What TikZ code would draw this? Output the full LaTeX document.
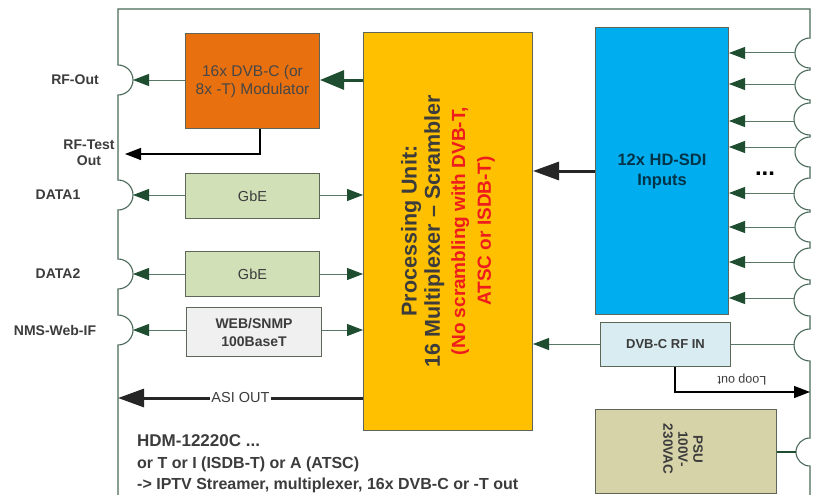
\documentclass[tikz,border=0pt]{standalone}
\usepackage{fontspec}
\setmainfont{Liberation Sans}
\usetikzlibrary{arrows.meta}
\definecolor{frameC}{HTML}{4A6A5A}
\definecolor{grn}{HTML}{1E4D30}
\definecolor{grnline}{HTML}{5A7868}
\definecolor{txt}{HTML}{3C3C3C}
\definecolor{modC}{HTML}{E8700E}
\definecolor{gbeC}{HTML}{D2E0B8}
\definecolor{webC}{HTML}{F0F0F0}
\definecolor{procC}{HTML}{FFC000}
\definecolor{sdiC}{HTML}{00AEEF}
\definecolor{rfinC}{HTML}{D8ECF2}
\definecolor{psuC}{HTML}{D6D3A9}
\definecolor{redT}{HTML}{EE1C1C}
\definecolor{bordC}{HTML}{5E6658}
\tikzset{
  frame/.style={draw=frameC, line width=1.1pt},
  blk/.style={draw=bordC, line width=1pt, anchor=north west, inner sep=0pt, align=center, text=txt},
  lbl/.style={font=\fontsize{14}{16}\selectfont\bfseries, text=txt, align=center, inner sep=0pt},
  gthin/.style={draw=grnline, line width=1pt, -{Triangle[length=16pt,width=12pt,color=grn]}},
  gline/.style={draw=grnline, line width=1pt},
  thickg/.style={draw=grn, line width=3pt, -{Triangle[length=24pt,width=19pt]}},
  thickk/.style={draw=black!85, line width=3pt, -{Triangle[length=26pt,width=18pt]}},
  blarrow/.style={draw=black, line width=1.3pt, -{Triangle[length=16pt,width=12pt]}},
  btext/.style={anchor=west, inner sep=0pt, text=txt}
}
\begin{document}
\begin{tikzpicture}[x=1pt,y=-1pt]
\useasboundingbox (0,0) rectangle (819,495);
\fill[white] (0,0) rectangle (819,495);
% frame
\draw[frame] (118,495) -- (118,345) arc[start angle=-90,end angle=90,radius=15pt]
  -- (118,289) arc[start angle=-90,end angle=90,radius=15pt]
  -- (118,210) arc[start angle=-90,end angle=90,radius=15pt]
  -- (118,95) arc[start angle=-90,end angle=90,radius=15pt]
  -- (118,9) -- (810,9)
  -- (810,38) arc[start angle=90,end angle=270,radius=15pt]
  -- (810,70) arc[start angle=90,end angle=270,radius=15pt]
  -- (810,103) arc[start angle=90,end angle=270,radius=16pt]
  -- (810,137) arc[start angle=90,end angle=270,radius=15pt]
  -- (810,178) arc[start angle=90,end angle=270,radius=16pt]
  -- (810,212) arc[start angle=90,end angle=270,radius=15pt]
  -- (810,248) arc[start angle=90,end angle=270,radius=16pt]
  -- (810,284) arc[start angle=90,end angle=270,radius=16pt]
  -- (810,329) arc[start angle=90,end angle=270,radius=16pt]
  -- (810,438) arc[start angle=90,end angle=270,radius=14pt]
  -- (810,495);
% port coordinates
\coordinate (rfout) at (133,80);
\coordinate (d1) at (133,195);
\coordinate (d2) at (133,274);
\coordinate (nms) at (133,330);
\coordinate (test) at (125,154);
\coordinate (asi) at (118,398);
\coordinate (loopend) at (810,392);
\coordinate (rfinport) at (795,344);
\coordinate (psuport) at (796,452);
\foreach \i/\y in {1/53,2/84,3/121,4/147,5/193,6/227,7/262,8/298}{
  \coordinate (in\i) at (795,\y);
}
% labels
\node[lbl] (lrf) at (75,80) {RF-Out};
\node[lbl] (ltest) at (89,153) {RF-Test\\Out};
\node[lbl] (ld1) at (58,195) {DATA1};
\node[lbl] (ld2) at (58,274) {DATA2};
\node[lbl] (lnms) at (55,330) {NMS-Web-IF};
% boxes
\node[blk, fill=modC, minimum width=134pt, minimum height=95pt, font=\fontsize{15.5}{18}\selectfont, text=black!72] (mod) at (185,33) {16x DVB-C (or\\8x -T) Modulator};
\node[blk, fill=gbeC, minimum width=134pt, minimum height=45pt, font=\fontsize{14.5}{16}\selectfont] (gbe1) at (185,173) {GbE};
\node[blk, fill=gbeC, minimum width=134pt, minimum height=45pt, font=\fontsize{14.5}{16}\selectfont] (gbe2) at (185,251) {GbE};
\node[blk, fill=webC, minimum width=135pt, minimum height=49pt, font=\fontsize{14}{18}\selectfont\bfseries] (web) at (186,307) {WEB/SNMP\\100BaseT};
\node[blk, fill=procC, minimum width=169pt, minimum height=398pt] (proc) at (363,32) {};
\node[rotate=90, align=center, inner sep=0pt, font=\bfseries] (proctxt) at (448,231)
  {\fontsize{21.5}{23}\selectfont\color{txt}Processing Unit:\\[2pt]
   \fontsize{21.5}{24}\selectfont\color{txt}16 Multiplexer -- Scrambler\\[6pt]
   \fontsize{19}{27}\selectfont\color{redT}(No scrambling with DVB-T,\\[7pt]
   \fontsize{19}{27}\selectfont\color{redT}ATSC or ISDB-T)};
\node[blk, fill=sdiC, minimum width=133pt, minimum height=287pt, font=\fontsize{16.5}{20}\selectfont\bfseries, text=black!70!sdiC] (sdi) at (595,27) {12x HD-SDI\\Inputs};
\node[blk, fill=rfinC, minimum width=130pt, minimum height=44pt, font=\fontsize{13}{15}\selectfont\bfseries] (rfin) at (600,322) {DVB-C RF IN};
\node[blk, fill=psuC, minimum width=181pt, minimum height=84pt] (psu) at (595,409) {};
\node[rotate=-90, align=center, inner sep=0pt, font=\fontsize{13.5}{15}\selectfont\bfseries, text=txt] (psutxt) at (683,449) {PSU\\100V-\\230VAC};
\node[font=\fontsize{24}{26}\selectfont\bfseries, text=black] (dots) at (765,174) {...};
% connectors
\draw[thickg] (proc.west |- rfout) -- (mod.east |- rfout);
\draw[gthin] (mod.west |- rfout) -- (rfout);
\draw[blarrow] (mod.south -| 260,0) |- (test);
\draw[gthin] (gbe1.west |- d1) -- (d1);
\draw[gthin] (gbe1.east |- d1) -- (proc.west |- d1);
\draw[gthin] (gbe2.west |- d2) -- (d2);
\draw[gthin] (gbe2.east |- d2) -- (proc.west |- d2);
\draw[gthin] (web.west |- nms) -- (nms);
\draw[gthin] (web.east |- nms) -- (proc.west |- nms);
\draw[thickk] (proc.west |- asi) -- (asi) node[pos=0.5, fill=white, inner sep=1pt, font=\fontsize{14.5}{16}\selectfont, text=txt] (asilbl) {ASI OUT};
\draw[thickk] (sdi.west |- 0,171) -- (proc.east |- 0,171);
\foreach \i in {1,...,8}{
  \draw[gthin] (in\i) -- (sdi.east |- in\i);
}
\draw[gline] (rfinport) -- (rfin.east |- rfinport);
\draw[gthin] (rfin.west |- rfinport) -- (proc.east |- rfinport);
\draw[blarrow] (rfin.south -| 675,0) |- (loopend);
\node[rotate=180, font=\fontsize{12.5}{14}\selectfont, text=txt, inner sep=0pt] (looplbl) at (742,379) {Loop out};
\draw[draw=grn, line width=2pt] (psu.east |- psuport) -- (psuport);
% bottom text
\node[btext, font=\fontsize{17}{20}\selectfont\bfseries] (hdm) at (137,441) {HDM-12220C ...};
\node[btext, font=\fontsize{16}{19}\selectfont\bfseries] (hdm2) at (137,464) {or T or I (ISDB-T) or A (ATSC)};
\node[btext, font=\fontsize{16}{19}\selectfont\bfseries] (hdm3) at (137,485) {-> IPTV Streamer, multiplexer, 16x DVB-C or -T out};
\end{tikzpicture}
\end{document}
